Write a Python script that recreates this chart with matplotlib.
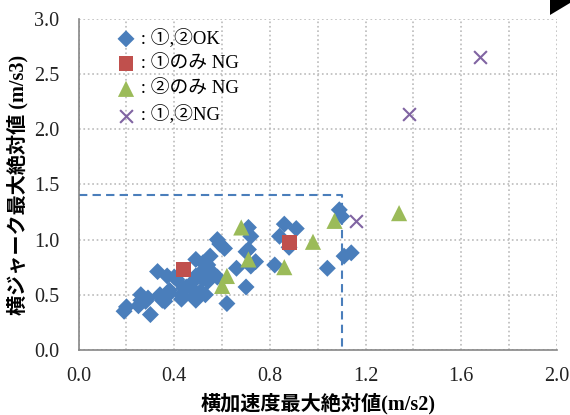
import numpy as np
import matplotlib
matplotlib.use("Agg")
import matplotlib.pyplot as plt
from matplotlib.patches import Polygon

plt.rcParams['font.family'] = ['Liberation Serif', 'Noto Sans CJK JP', 'DejaVu Sans']

# ①,② OK
ok_x = [0.19, 0.20, 0.25, 0.26, 0.26, 0.28, 0.29, 0.30, 0.33, 0.34, 0.35, 0.36,
        0.37, 0.38, 0.38, 0.41, 0.40, 0.43, 0.44, 0.43, 0.45, 0.47, 0.48, 0.48,
        0.49, 0.49, 0.49, 0.51, 0.51, 0.52, 0.52, 0.53, 0.53, 0.54, 0.55, 0.54,
        0.56, 0.58, 0.59, 0.61, 0.58, 0.62, 0.66, 0.70, 0.70, 0.71, 0.72, 0.72,
        0.74, 0.82, 0.84, 0.86, 0.91, 0.88, 1.04, 1.09, 1.10, 1.11, 1.14, 0.71]
ok_y = [0.35, 0.39, 0.40, 0.50, 0.45, 0.44, 0.47, 0.32, 0.71, 0.50, 0.45, 0.44,
        0.67, 0.54, 0.51, 0.64, 0.66, 0.50, 0.56, 0.46, 0.57, 0.60, 0.54, 0.48,
        0.82, 0.45, 0.67, 0.70, 0.53, 0.79, 0.64, 0.50, 0.71, 0.77, 0.85, 0.62,
        0.70, 1.00, 0.96, 0.92, 0.66, 0.42, 0.74, 0.57, 0.89, 1.11, 1.03, 0.76,
        0.80, 0.77, 1.03, 1.14, 1.10, 0.93, 0.74, 1.27, 1.21, 0.85, 0.88, 0.91]

# ①のみ NG
ng1_x = [0.44, 0.88]
ng1_y = [0.73, 0.97]

# ②のみ NG
ng2_x = [0.60, 0.62, 0.68, 0.71, 0.86, 0.98, 1.07, 1.34]
ng2_y = [0.58, 0.67, 1.11, 0.82, 0.75, 0.98, 1.17, 1.24]

# ①,② NG
ng12_x = [1.16, 1.38, 1.68]
ng12_y = [1.17, 2.14, 2.66]

labels = [' : ①,②OK', ' : ①のみ NG', ' : ②のみ NG', ' : ①,②NG']

fig = plt.figure(figsize=(5.7, 4.15), dpi=100)
ax = fig.add_axes([0.138, 0.157, 0.839, 0.797])

ax.scatter(ok_x, ok_y, marker='D', s=75, color='#4A7EBB', edgecolors='none',
           label=labels[0], zorder=3)
ax.scatter(ng1_x, ng1_y, marker='s', s=115, color='#C0504D', edgecolors='none',
           label=labels[1], zorder=4)
ax.scatter(ng2_x, ng2_y, marker='^', s=135, color='#9BBB59', edgecolors='none',
           label=labels[2], zorder=4)
ax.scatter(ng12_x, ng12_y, marker='x', s=85, color='#8064A2', linewidths=1.5,
           label=labels[3], zorder=4)

# 基準線
ax.plot([0, 1.1, 1.1], [1.4, 1.4, 0], color='#4A7EBB', linestyle='--',
        linewidth=1.5, dashes=(4, 2.5), zorder=2)

ax.set_xlim(0, 2.0)
ax.set_ylim(0, 3.0)
ax.set_xticks(np.arange(0, 2.01, 0.4))
ax.set_xticks(np.arange(0, 2.01, 0.2), minor=True)
ax.set_yticks(np.arange(0, 3.01, 0.5))
ax.set_xticklabels([f'{v:.1f}' for v in np.arange(0, 2.01, 0.4)])
ax.set_yticklabels([f'{v:.1f}' for v in np.arange(0, 3.01, 0.5)])
ax.tick_params(which='both', length=0, labelsize=14.5, colors='#222222')
ax.tick_params(axis='x', pad=12)
ax.tick_params(axis='y', pad=14)
ax.grid(which='both', color='#BBBBBB', linestyle=':', linewidth=1.2)
ax.set_axisbelow(True)

for s in ['top', 'right']:
    ax.spines[s].set_visible(False)
for s in ['left', 'bottom']:
    ax.spines[s].set_color('#868686')
    ax.spines[s].set_linewidth(1.2)

ax.set_xlabel('横加速度最大絶対値(m/s2)', fontsize=14.5, fontweight='bold',
              labelpad=5)
ax.set_ylabel('横ジャーク最大絶対値 (m/s3)', fontsize=14.5, fontweight='bold',
              labelpad=4)

leg = ax.legend(loc='upper left', bbox_to_anchor=(0.05, 1.01), frameon=False,
                fontsize=13.5, handletextpad=0.0, labelspacing=0.42,
                borderaxespad=0.3, handlelength=1.1)

# 右上の黒い三角
fig.patches.append(Polygon([(550 / 570, 1.0), (550 / 570, 1 - 15 / 415),
                            (1.0, 1 - 3 / 415), (1.0, 1.0)],
                           closed=True, transform=fig.transFigure,
                           facecolor='black', edgecolor='none'))

fig.savefig('out.png', dpi=100)
